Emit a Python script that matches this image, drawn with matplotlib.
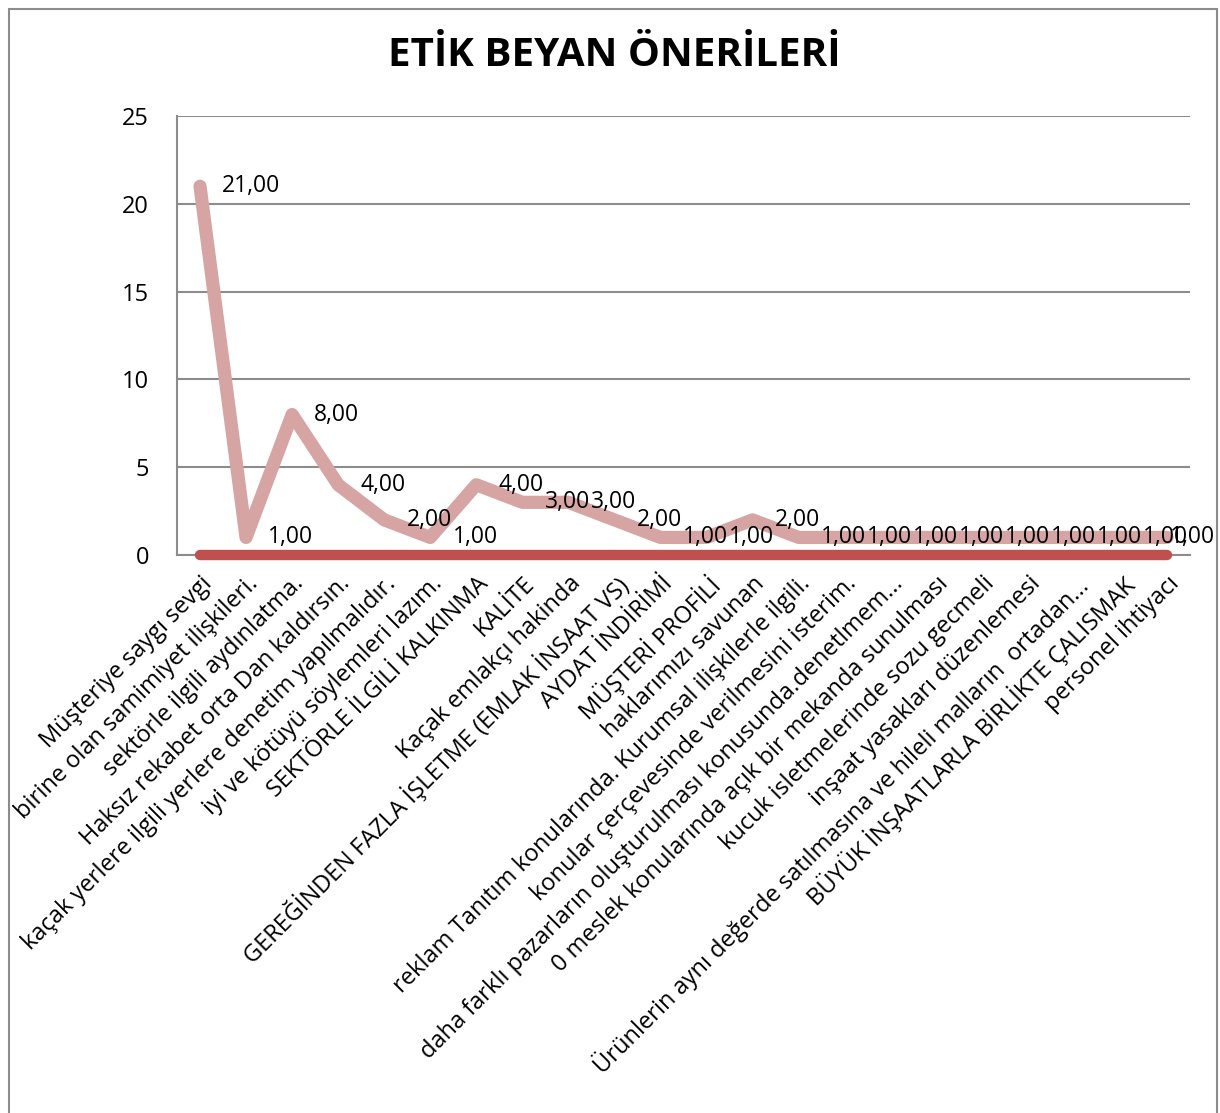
import matplotlib.pyplot as plt
from matplotlib.patches import Rectangle

plt.rcParams['font.family'] = ['Open Sans', 'DejaVu Sans']

# categories (x axis)
categories = [
    'Müşteriye saygı sevgi',
    'birine olan samimiyet ilişkileri.',
    'sektörle ilgili aydınlatma.',
    'Haksız rekabet orta Dan kaldırsın.',
    'kaçak yerlere ilgili yerlere denetim yapılmalıdır.',
    'iyi ve kötüyü söylemleri lazım.',
    'SEKTÖRLE İLGİLİ KALKINMA',
    'KALİTE',
    'Kaçak emlakçı hakinda',
    'GEREĞİNDEN FAZLA İŞLETME (EMLAK İNSAAT VS)',
    'AYDAT İNDİRİMİ',
    'MÜŞTERİ PROFİLİ',
    'haklarımızı savunan',
    'reklam Tanıtım konularında. Kurumsal ilişkilerle ilgili.',
    'konular çerçevesinde verilmesini isterim.',
    'daha farklı pazarların oluşturulması konusunda.denetlmem...',
    '0 meslek konularında açık bir mekanda sunulması',
    'kucuk isletmelerinde sozu gecmeli',
    'inşaat yasakları düzenlemesi',
    'Ürünlerin aynı değerde satılmasına ve hileli malların  ortadan...',
    'BÜYÜK İNŞAATLARLA BİRLİKTE ÇALISMAK',
    'personel ihtiyacı',
]
# series values
counts = [21, 1, 8, 4, 2, 1, 4, 3, 3, 2, 1, 1, 2, 1, 1, 1, 1, 1, 1, 1, 1, 1]
zeros = [0] * len(categories)
y_ticks = [0, 5, 10, 15, 20, 25]

fig = plt.figure(figsize=(12.2, 11.13), dpi=100)
ax = fig.add_axes([177 / 1220, 1 - 555 / 1113, (1190 - 177) / 1220, (555 - 116) / 1113])

x = list(range(len(categories)))
ax.plot(x, zeros, color='#C0504D', lw=7.5, solid_capstyle='round', zorder=3, clip_on=False)
ax.plot(x, counts, color='#D6A4A3', lw=9.5, solid_joinstyle='round', solid_capstyle='round',
        zorder=4, clip_on=False)

# data labels
for i, v in enumerate(counts):
    dx = 16 if i < len(counts) - 1 else 2
    ax.annotate(f'{v:.2f}'.replace('.', ','), (i, v), xytext=(dx, 0),
                textcoords='offset points', ha='left', va='center',
                fontsize=16.5, zorder=5)

ax.set_xlim(-0.5, len(categories) - 0.5)
ax.set_ylim(0, 25)
ax.set_yticks(y_ticks)
ax.set_yticklabels([str(t) for t in y_ticks], fontsize=17)
ax.set_xticks(x)
ax.set_xticklabels(categories, rotation=45, ha='right', rotation_mode='anchor', fontsize=17)
ax.tick_params(axis='both', length=0)
ax.tick_params(axis='y', pad=20)
ax.tick_params(axis='x', pad=12)

ax.grid(axis='y', color='#8C8C8C', lw=1.5)
ax.set_axisbelow(True)
for s in ['top', 'right']:
    ax.spines[s].set_visible(False)
for s in ['left', 'bottom']:
    ax.spines[s].set_color('#8C8C8C')
    ax.spines[s].set_linewidth(1.5)

fig.text(614 / 1220, 1 - 56 / 1113, 'ETİK BEYAN ÖNERİLERİ', ha='center', va='center',
         fontsize=29, fontweight='bold')

# outer chart frame
fig.patches.append(Rectangle((9 / 1220, -0.01), 1208 / 1220, 1 - 9 / 1113 + 0.01,
                             transform=fig.transFigure, fill=False,
                             edgecolor='#8C8C8C', lw=1.5))

fig.savefig('out.png', dpi=100)
